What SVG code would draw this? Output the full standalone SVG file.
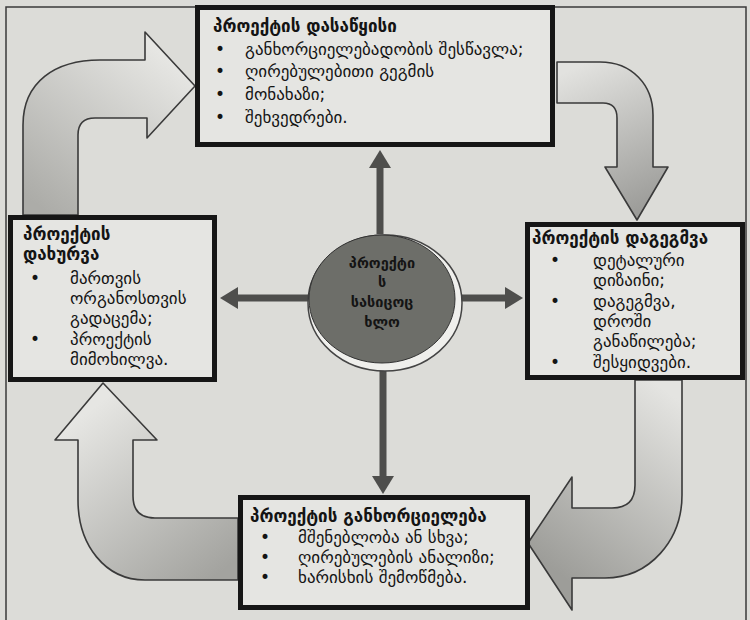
<svg xmlns="http://www.w3.org/2000/svg" width="750" height="620" viewBox="0 0 750 620">
  <style>
    .box { fill: #e5e5e2; stroke: #161616; stroke-width: 5; }
    .t { font-family: "DejaVu Sans", "Noto Sans", sans-serif; font-size: 17px; fill: #141414; }
    .title { font-weight: bold; }
    .dot { text-anchor: middle; }
    .block { stroke: #3a3a3a; stroke-width: 1.6; stroke-linejoin: round; }
    .spoke { stroke: #4e4e4c; stroke-width: 7; fill: none; }
    .tip { fill: #4e4e4c; }
    .frame { stroke: #3a3a3a; stroke-width: 1.5; fill: none; }
  </style>
  <defs>
    <linearGradient id="gA1" gradientUnits="userSpaceOnUse" x1="50" y1="215" x2="170" y2="60">
      <stop offset="0" stop-color="#acaca8"/>
      <stop offset="1" stop-color="#e6e6e3"/>
    </linearGradient>
    <linearGradient id="gA2" gradientUnits="userSpaceOnUse" x1="570" y1="70" x2="637" y2="215">
      <stop offset="0" stop-color="#e2e2df"/>
      <stop offset="1" stop-color="#9b9b98"/>
    </linearGradient>
    <linearGradient id="gA3" gradientUnits="userSpaceOnUse" x1="665" y1="390" x2="540" y2="560">
      <stop offset="0" stop-color="#e4e4e1"/>
      <stop offset="1" stop-color="#9d9d99"/>
    </linearGradient>
    <linearGradient id="gA4" gradientUnits="userSpaceOnUse" x1="230" y1="565" x2="103" y2="400">
      <stop offset="0" stop-color="#a3a39f"/>
      <stop offset="1" stop-color="#e6e6e3"/>
    </linearGradient>
  </defs>

  <!-- page background -->
  <rect x="0" y="0" width="750" height="620" fill="#dcdcd8"/>
  <!-- outer frame -->
  <path class="frame" d="M6 620 L6 7 L746 7 L746 620"/>

  <!-- cycle connectors and spokes -->
  <g id="connectors">
    <!-- closing -> start -->
    <path class="block" fill="url(#gA1)" d="M23 215 L23 125 C23 82 55 60 100 60 L145 60 L145 32 L195 86 L147 138 L147 118 L95 118 Q78 118 78 135 L78 215 Z"/>
    <!-- start -> planning -->
    <path class="block" fill="url(#gA2)" d="M557 62 L600 62 C632 62 653 85 653 115 L653 167 L668 167 L637 220 L605 167 L617 167 L617 118 Q617 103 603 103 L557 103 Z"/>
    <!-- planning -> execution -->
    <path class="block" fill="url(#gA3)" d="M635 380 L635 485 Q635 508 612 508 L572 508 L572 477 L528 543 L572 610 L572 578 L605 578 C650 578 682 540 682 495 L682 380 Z"/>
    <!-- execution -> closing -->
    <path class="block" fill="url(#gA4)" d="M238 518 L155 518 Q133 518 133 496 L133 440 L157 440 L103 383 L55 440 L78 440 L78 500 C78 545 105 580 145 580 L238 580 Z"/>

    <!-- spokes from the hub -->
    <line class="spoke" x1="380" y1="234" x2="380" y2="165"/>
    <polygon class="tip" points="380,150 369,168 391,168"/>
    <line class="spoke" x1="308" y1="298" x2="236" y2="298"/>
    <polygon class="tip" points="220,298 238,287 238,309"/>
    <line class="spoke" x1="457" y1="298" x2="507" y2="298"/>
    <polygon class="tip" points="523,298 505,287 505,309"/>
    <line class="spoke" x1="383" y1="366" x2="383" y2="479"/>
    <polygon class="tip" points="383,494 372,476 394,476"/>
  </g>

  <!-- hub -->
  <g id="hub">
    <ellipse cx="385" cy="303" rx="77" ry="68" fill="#efefec" stroke="#444" stroke-width="1.5"/>
    <ellipse cx="382" cy="299" rx="73" ry="64" fill="#6d6e69" stroke="#333" stroke-width="1"/>
    <g class="t title" text-anchor="middle" style="font-size:14.5px">
      <text x="382" y="268">პროექტი</text>
      <text x="382" y="287">ს</text>
      <text x="382" y="307">სასიცოც</text>
      <text x="382" y="327">ხლო</text>
    </g>
  </g>

  <!-- start -->
  <g id="start">
    <rect class="box" x="197.5" y="7.5" width="355" height="137"/>
    <text class="t title" x="213" y="32">პროექტის დასაწყისი</text>
    <text class="t dot" x="220" y="55">•</text>
    <text class="t" x="245" y="55">განხორციელებადობის შესწავლა;</text>
    <text class="t dot" x="220" y="77">•</text>
    <text class="t" x="245" y="77">ღირებულებითი გეგმის</text>
    <text class="t dot" x="220" y="100">•</text>
    <text class="t" x="245" y="100">მონახაზი;</text>
    <text class="t dot" x="220" y="123">•</text>
    <text class="t" x="245" y="123">შეხვედრები.</text>
  </g>

  <!-- closing -->
  <g id="closing">
    <rect class="box" x="10.5" y="217.5" width="204" height="162"/>
    <text class="t title" x="23" y="240">პროექტის</text>
    <text class="t title" x="23" y="260">დახურვა</text>
    <text class="t dot" x="35" y="284">•</text>
    <text class="t" x="70" y="284">მართვის</text>
    <text class="t" x="70" y="304">ორგანოსთვის</text>
    <text class="t" x="70" y="324">გადაცემა;</text>
    <text class="t dot" x="35" y="345">•</text>
    <text class="t" x="70" y="345">პროექტის</text>
    <text class="t" x="70" y="365">მიმოხილვა.</text>
  </g>

  <!-- planning -->
  <g id="planning">
    <rect class="box" x="527.5" y="224.5" width="215" height="153"/>
    <text class="t title" x="532" y="244">პროექტის დაგეგმვა</text>
    <text class="t dot" x="555" y="266">•</text>
    <text class="t" x="593" y="266">დეტალური</text>
    <text class="t" x="593" y="286">დიზაინი;</text>
    <text class="t dot" x="555" y="307">•</text>
    <text class="t" x="593" y="307">დაგეგმვა,</text>
    <text class="t" x="593" y="327">დროში</text>
    <text class="t" x="593" y="347">განაწილება;</text>
    <text class="t dot" x="555" y="368">•</text>
    <text class="t" x="593" y="368">შესყიდვები.</text>
  </g>

  <!-- execution -->
  <g id="execution">
    <rect class="box" x="240.5" y="497.5" width="287" height="110"/>
    <text class="t title" x="250" y="522">პროექტის განხორციელება</text>
    <text class="t dot" x="265" y="543">•</text>
    <text class="t" x="298" y="543">მშენებლობა ან სხვა;</text>
    <text class="t dot" x="265" y="563">•</text>
    <text class="t" x="298" y="563">ღირებულების ანალიზი;</text>
    <text class="t dot" x="265" y="583">•</text>
    <text class="t" x="298" y="583">ხარისხის შემოწმება.</text>
  </g>
</svg>
